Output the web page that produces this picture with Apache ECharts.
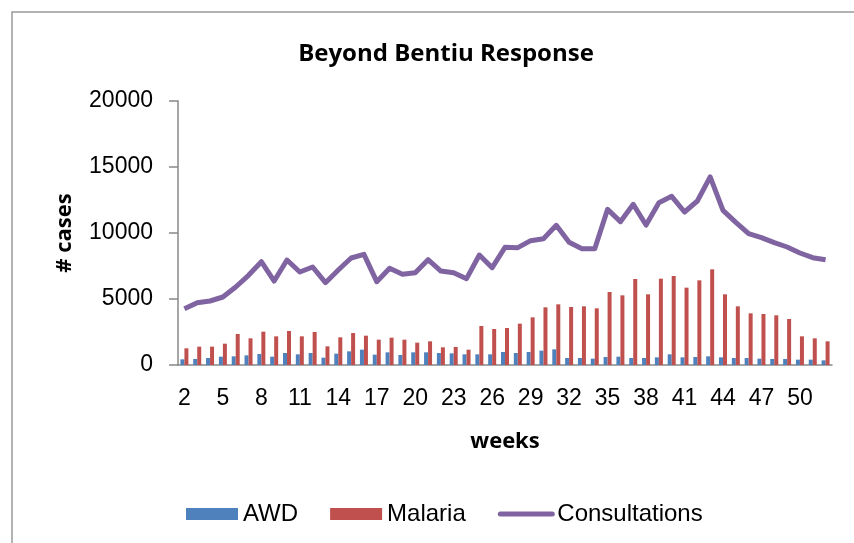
<!DOCTYPE html>
<html><head><meta charset="utf-8">
<script src="https://cdn.jsdelivr.net/npm/echarts@6/dist/echarts.min.js"></script>
<style>html,body{margin:0;padding:0;background:#fff}#c{width:854px;height:543px}</style>
</head><body><div id="c"></div>
<script>
const weeks = ['2','3','4','5','6','7','8','9','10','11','12','13','14','15','16','17','18','19','20','21','22','23','24','25','26','27','28','29','30','31','32','33','34','35','36','37','38','39','40','41','42','43','44','45','46','47','48','49','50','51','52'];
const awd = [430,455,530,630,657,732,833,630,909,808,909,555,858,1035,1162,783,960,758,960,960,909,884,808,808,808,985,909,985,1086,1187,530,530,480,606,631,530,530,581,808,581,606,657,581,530,530,480,455,455,404,404,354];
const malaria = [1263,1390,1390,1616,2348,2020,2525,2172,2576,2172,2500,1414,2096,2424,2222,1919,2070,1919,1692,1793,1338,1364,1162,2955,2727,2803,3131,3611,4369,4596,4394,4444,4293,5530,5278,6515,5354,6540,6742,5859,6414,7247,5354,4444,3914,3864,3763,3485,2172,2020,1793];
const consultations = [4268,4722,4848,5151,5909,6793,7828,6363,7954,7045,7424,6237,7197,8106,8384,6313,7323,6869,6995,7980,7121,6995,6540,8333,7374,8914,8889,9419,9571,10581,9293,8813,8813,11793,10859,12172,10606,12298,12778,11591,12424,14250,11717,10808,9949,9646,9268,8939,8485,8131,7980];
const yTicks = [0, 5000, 10000, 15000, 20000];

const chart = echarts.init(document.getElementById('c'));
const font = 'Liberation Sans';
chart.setOption({
  animation: false,
  title: {text: 'Beyond Bentiu Response', left: 441, top: 37, textAlign: 'center',
    textStyle: {fontFamily: 'Open Sans', fontWeight: 'bold', fontSize: 24, color: '#000'}},
  graphic: [{type: 'rect', shape: {x: 12, y: 12, width: 860, height: 560}, style: {fill: 'none', stroke: '#999', lineWidth: 1.5}}],
  grid: {left: 178, right: 22, top: 101, bottom: 178},
  legend: {bottom: 12, left: 181, itemGap: 32, itemWidth: 52, itemHeight: 12,
    textStyle: {fontFamily: font, fontSize: 24, color: '#000'},
    data: [{name: 'AWD', icon: 'rect'}, {name: 'Malaria', icon: 'rect'},
      {name: 'Consultations', itemStyle: {opacity: 0}, lineStyle: {width: 5, cap: 'round', color: '#8064A2'}}]},
  xAxis: {type: 'category', data: weeks, name: 'weeks', nameLocation: 'middle', nameGap: 66,
    nameTextStyle: {fontFamily: 'Open Sans', fontWeight: 'bold', fontSize: 22, color: '#000'},
    axisLine: {lineStyle: {color: '#888', width: 1.5}},
    axisTick: {interval: 0, length: 8, lineStyle: {color: '#888', width: 1.5}},
    axisLabel: {interval: 2, fontFamily: font, fontSize: 23, color: '#000', margin: 22}},
  yAxis: {type: 'value', min: yTicks[0], max: yTicks[yTicks.length - 1], interval: 5000, name: '# cases', nameLocation: 'middle', nameGap: 102,
    nameTextStyle: {fontFamily: 'Open Sans', fontWeight: 'bold', fontSize: 22, color: '#000'},
    axisLine: {show: true, lineStyle: {color: '#888', width: 1.5}},
    axisTick: {show: true, length: 9, lineStyle: {color: '#888', width: 1.5}},
    splitLine: {show: false},
    axisLabel: {fontFamily: font, fontSize: 23, color: '#000', margin: 25, formatter: v => String(v)}},
  series: [
    {name: 'AWD', type: 'bar', data: awd, barWidth: 4, barGap: '0%', itemStyle: {color: '#4F81BD'}},
    {name: 'Malaria', type: 'bar', data: malaria, barWidth: 4, itemStyle: {color: '#C0504D'}},
    {name: 'Consultations', type: 'line', data: consultations, symbol: 'none', lineStyle: {color: '#8064A2', width: 5, join: 'round'}, itemStyle: {color: '#8064A2'}}
  ]
});
</script></body></html>
